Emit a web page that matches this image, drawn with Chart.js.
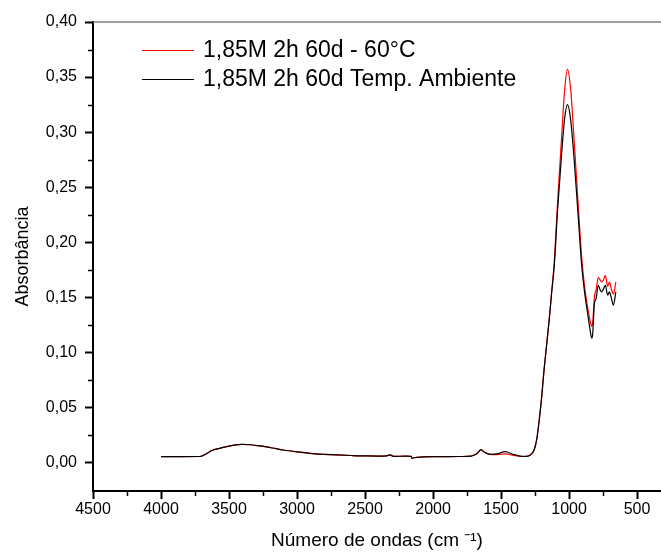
<!DOCTYPE html>
<html>
<head>
<meta charset="utf-8">
<script src="https://cdn.jsdelivr.net/npm/chart.js@4.4.1/dist/chart.umd.min.js"></script>
<style>
  html, body { margin: 0; padding: 0; background: #fff; }
  #wrap { width: 661px; height: 560px; }
</style>
</head>
<body>
<div id="wrap"><canvas id="chart"></canvas></div>
<script>
// wavenumbers (cm-1), high to low
const waveNumbers = [
  4000, 3850, 3713, 3660, 3627, 3570, 3517, 3460, 3407, 3340, 3272, 3180, 3101, 3000,
  2904, 2800, 2708, 2600, 2488, 2400, 2340, 2316, 2290, 2200, 2160, 2155, 2140, 2080,
  2000, 1900, 1800, 1720, 1680, 1647, 1620, 1581, 1530, 1468, 1410, 1360, 1324, 1287,
  1257, 1238, 1219, 1201, 1184, 1164, 1145, 1128, 1108, 1085, 1056, 1032, 1012, 988,
  963, 932, 907, 882, 870, 858, 846, 838, 833, 826, 820, 814, 801, 785, 772, 760, 746, 733, 716,
  703, 690, 674, 656
];

const hot60C = [
  0.0055, 0.0055, 0.0056, 0.0085, 0.0110, 0.0130, 0.0146, 0.0160, 0.0167, 0.0163, 0.0152, 0.0133, 0.0115, 0.0098,
  0.0085, 0.0076, 0.0070, 0.0065, 0.0061, 0.0060, 0.0062, 0.0070, 0.0058, 0.0059, 0.0058, 0.0040, 0.0045, 0.0052,
  0.0055, 0.0055, 0.0056, 0.0060, 0.0078, 0.0115, 0.0093, 0.0075, 0.0073, 0.0080, 0.0066, 0.0058, 0.0056, 0.0068,
  0.0115, 0.021, 0.039, 0.060, 0.084, 0.108, 0.131, 0.155, 0.184, 0.235, 0.293, 0.339, 0.357, 0.339,
  0.293, 0.233, 0.186, 0.156, 0.146, 0.137, 0.129, 0.125, 0.124, 0.127, 0.138, 0.150, 0.157, 0.168, 0.166, 0.164, 0.166, 0.170, 0.160,
  0.164, 0.158, 0.153, 0.164
];

const roomTemp = [
  0.0055, 0.0055, 0.0056, 0.0085, 0.0110, 0.0130, 0.0146, 0.0160, 0.0167, 0.0163, 0.0152, 0.0133, 0.0115, 0.0098,
  0.0085, 0.0076, 0.0070, 0.0065, 0.0061, 0.0060, 0.0062, 0.0070, 0.0058, 0.0059, 0.0058, 0.0040, 0.0045, 0.0052,
  0.0055, 0.0055, 0.0056, 0.0060, 0.0080, 0.0118, 0.0095, 0.0076, 0.0080, 0.0100, 0.0075, 0.0060, 0.0058, 0.0068,
  0.0115, 0.021, 0.039, 0.060, 0.084, 0.108, 0.131, 0.154, 0.180, 0.228, 0.278, 0.313, 0.325, 0.311,
  0.276, 0.222, 0.179, 0.151, 0.141, 0.131, 0.121, 0.115, 0.113, 0.117, 0.131, 0.144, 0.149, 0.161, 0.157, 0.155, 0.158, 0.161, 0.152,
  0.155, 0.150, 0.143, 0.155
];

const seriesLabels = ['1,85M 2h 60d - 60°C', '1,85M 2h 60d Temp. Ambiente'];
const seriesColors = ['#ff0000', '#000000'];

const xMajorTicks = [4500, 4000, 3500, 3000, 2500, 2000, 1500, 1000, 500];
const xMinorTicks = [750, 1250, 1750, 2250, 2750, 3250, 3750, 4250];
const yMinorTicks = [0.025, 0.075, 0.125, 0.175, 0.225, 0.275, 0.325, 0.375];

const FONT = "'Liberation Sans', Arial, sans-serif";

function toPoints(ys) {
  return waveNumbers.map((x, i) => ({ x: x, y: ys[i] }));
}

// minor ticks, grey top frame line and the in-plot legend
const decorations = {
  id: 'decorations',
  afterDraw(chart) {
    const ctx = chart.ctx;
    const area = chart.chartArea;
    const xs = chart.scales.x;
    const ys = chart.scales.y;
    ctx.save();
    ctx.strokeStyle = '#000';
    ctx.lineWidth = 1.5;
    ctx.beginPath();
    xMinorTicks.forEach(v => {
      const px = Math.round(xs.getPixelForValue(v)) + 0.5;
      ctx.moveTo(px, area.bottom);
      ctx.lineTo(px, area.bottom + 5);
    });
    yMinorTicks.forEach(v => {
      const py = Math.round(ys.getPixelForValue(v)) + 0.5;
      ctx.moveTo(area.left, py);
      ctx.lineTo(area.left - 5, py);
    });
    ctx.stroke();

    ctx.strokeStyle = '#7f7f7f';
    ctx.lineWidth = 1.5;
    ctx.beginPath();
    ctx.moveTo(area.left, area.top);
    ctx.lineTo(area.right, area.top);
    ctx.stroke();

    ctx.font = '23px ' + FONT;
    ctx.textBaseline = 'middle';
    ctx.fillStyle = '#000';
    seriesLabels.forEach((label, i) => {
      const y = area.top + 28 + i * 29;
      ctx.strokeStyle = seriesColors[i];
      ctx.lineWidth = 1;
      ctx.beginPath();
      ctx.moveTo(area.left + 49, y + 0.5);
      ctx.lineTo(area.left + 101, y + 0.5);
      ctx.stroke();
      ctx.fillText(label, area.left + 110, y + 1);
    });
    ctx.restore();
  }
};

new Chart(document.getElementById('chart'), {
  type: 'line',
  data: {
    datasets: [
      {
        label: seriesLabels[0],
        data: toPoints(hot60C),
        borderColor: seriesColors[0],
        borderWidth: 1.2,
        pointRadius: 0,
        cubicInterpolationMode: 'monotone',
        order: 1
      },
      {
        label: seriesLabels[1],
        data: toPoints(roomTemp),
        borderColor: seriesColors[1],
        borderWidth: 1.2,
        pointRadius: 0,
        cubicInterpolationMode: 'monotone',
        order: 0
      }
    ]
  },
  options: {
    responsive: true,
    maintainAspectRatio: false,
    animation: false,
    devicePixelRatio: 1,
    layout: { padding: { top: 22, right: 0, left: 0, bottom: 0 } },
    plugins: {
      legend: { display: false },
      tooltip: { enabled: false }
    },
    scales: {
      x: {
        type: 'linear',
        reverse: true,
        min: 324,
        max: 4500,
        afterBuildTicks: s => { s.ticks = xMajorTicks.map(v => ({ value: v })); },
        afterFit: s => { s.height = 69; s.paddingRight = 0; s.paddingLeft = 0; },
        border: { display: true, color: '#000', width: 2 },
        grid: { drawOnChartArea: false, drawTicks: true, tickLength: 8, tickWidth: 2, tickColor: '#000' },
        ticks: {
          autoSkip: false,
          padding: 1,
          color: '#000',
          font: { family: FONT, size: 16 },
          maxRotation: 0,
          callback: v => String(v)
        },
        title: {
          display: true,
          text: 'Número de ondas (cm \u207B\u00B9)',
          color: '#000',
          font: { family: FONT, size: 19 },
          padding: { top: 0, bottom: 8 }
        }
      },
      y: {
        min: -0.0257,
        max: 0.40,
        afterFit: s => { s.width = 93; },
        border: { display: true, color: '#000', width: 2 },
        grid: { drawOnChartArea: false, drawTicks: true, tickLength: 8, tickWidth: 2, tickColor: '#000' },
        ticks: {
          stepSize: 0.05,
          includeBounds: false,
          padding: 8,
          color: '#000',
          font: { family: FONT, size: 16 },
          callback: v => v.toFixed(2).replace('.', ',')
        },
        title: {
          display: true,
          text: 'Absorbância',
          color: '#000',
          font: { family: FONT, size: 18 },
          padding: { top: 12, bottom: 0 }
        }
      }
    }
  },
  plugins: [decorations]
});
</script>
</body>
</html>
